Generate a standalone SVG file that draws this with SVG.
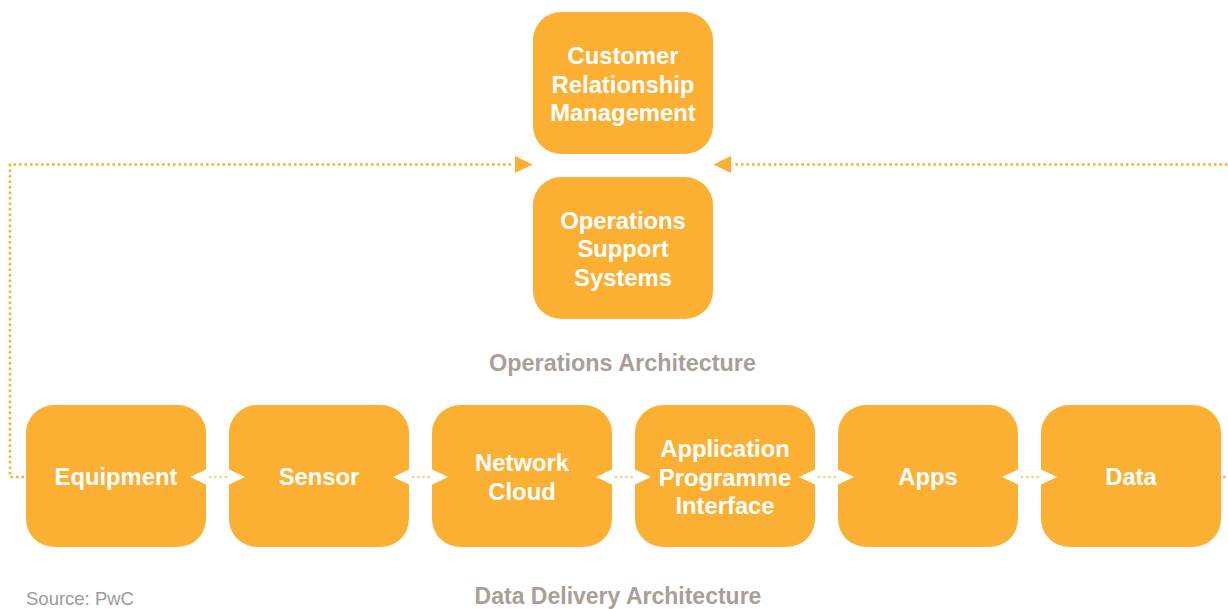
<svg xmlns="http://www.w3.org/2000/svg" width="1228" height="609" viewBox="0 0 1228 609">
<style>
.box{fill:#FBB034}
.lbl{font-family:"Liberation Sans",Arial,sans-serif;font-weight:bold;font-size:23.8px;fill:#FFFFFF;text-anchor:middle}
.cap{font-family:"Liberation Sans",Arial,sans-serif;font-weight:bold;font-size:23.4px;fill:#A8A097;text-anchor:middle}
.cap2{font-family:"Liberation Sans",Arial,sans-serif;font-weight:bold;font-size:23px;fill:#A8A097;text-anchor:middle}
.src{font-family:"Liberation Sans",Arial,sans-serif;font-size:18.5px;fill:#9B9B9B}
.dot{fill:none;stroke:#FBB034;stroke-width:2.6;stroke-dasharray:2.6 2.9}
.gapdot{fill:none;stroke:#FBC866;stroke-width:2.2;stroke-dasharray:2.2 3}
.head{fill:#FBB034}
.whead{fill:#FFFFFF}
</style>
<rect width="1228" height="609" fill="#FFFFFF"/>
<g id="connectors">
  <path class="dot" d="M24,477 H10 V164.5 H514"/>
  <polygon class="head" points="515,156 532.5,164.5 515,173"/>
  <path class="dot" d="M1223,477 H1234 V164.5 H732"/>
  <polygon class="head" points="731,156 713.5,164.5 731,173"/>
</g>
<g id="equipment"><rect class="box" x="26" y="405" width="180" height="142" rx="28"/><text class="lbl" x="116" y="485">Equipment</text></g>
<g id="sensor"><rect class="box" x="229" y="405" width="180" height="142" rx="28"/><text class="lbl" x="319" y="485">Sensor</text></g>
<g id="network-cloud"><rect class="box" x="432" y="405" width="180" height="142" rx="28"/><text class="lbl" x="522" y="471">Network</text><text class="lbl" x="522" y="499.5">Cloud</text></g>
<g id="api"><rect class="box" x="635" y="405" width="180" height="142" rx="28"/><text class="lbl" x="725" y="457">Application</text><text class="lbl" x="725" y="485.5">Programme</text><text class="lbl" x="725" y="514">Interface</text></g>
<g id="apps"><rect class="box" x="838" y="405" width="180" height="142" rx="28"/><text class="lbl" x="928" y="485">Apps</text></g>
<g id="data"><rect class="box" x="1041" y="405" width="180" height="142" rx="28"/><text class="lbl" x="1131" y="485">Data</text></g>
<g id="crm"><rect class="box" x="533" y="12" width="180" height="142" rx="28"/><text class="lbl" x="623" y="64">Customer</text><text class="lbl" x="623" y="92.5">Relationship</text><text class="lbl" x="623" y="121">Management</text></g>
<g id="oss"><rect class="box" x="533" y="177" width="180" height="142" rx="28"/><text class="lbl" x="623" y="228.5">Operations</text><text class="lbl" x="623" y="257">Support</text><text class="lbl" x="623" y="285.5">Systems</text></g>
<g id="links">
  <g><polygon class="whead" points="190,477 207,469 207,485"/><path class="gapdot" d="M209,477 H228"/><polygon class="whead" points="245,477 228,469 228,485"/></g>
  <g><polygon class="whead" points="393,477 410,469 410,485"/><path class="gapdot" d="M412,477 H431"/><polygon class="whead" points="448,477 431,469 431,485"/></g>
  <g><polygon class="whead" points="596,477 613,469 613,485"/><path class="gapdot" d="M615,477 H634"/><polygon class="whead" points="651,477 634,469 634,485"/></g>
  <g><polygon class="whead" points="799,477 816,469 816,485"/><path class="gapdot" d="M818,477 H837"/><polygon class="whead" points="854,477 837,469 837,485"/></g>
  <g><polygon class="whead" points="1002,477 1019,469 1019,485"/><path class="gapdot" d="M1021,477 H1040"/><polygon class="whead" points="1057,477 1040,469 1040,485"/></g>
</g>
<text class="cap" x="622.5" y="371">Operations Architecture</text>
<text class="cap2" x="618" y="604">Data Delivery Architecture</text>
<text class="src" x="26" y="605">Source: PwC</text>
</svg>
